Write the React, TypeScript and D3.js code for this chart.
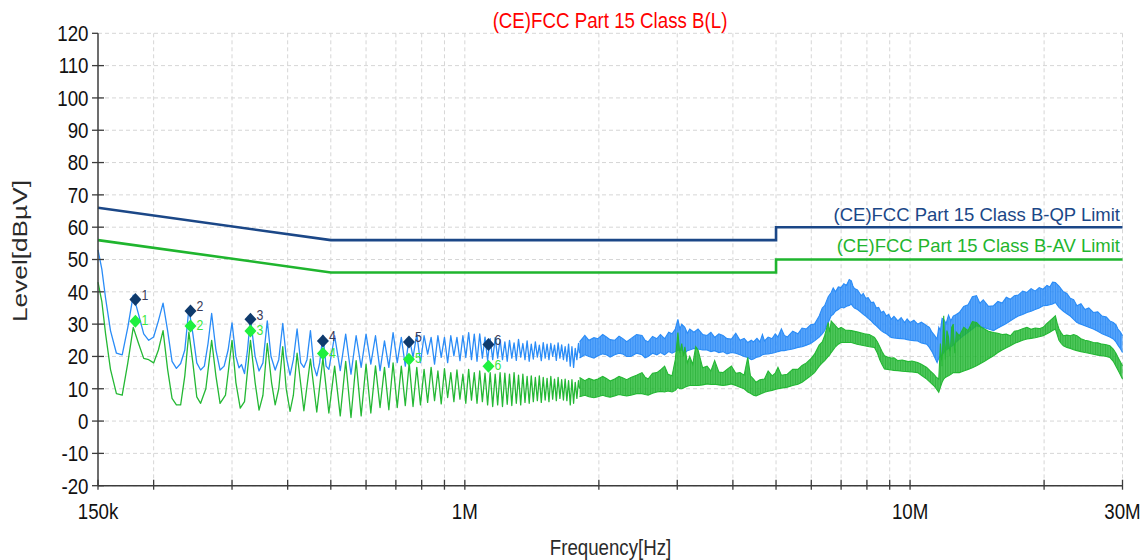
import React from "react";
import * as d3 from "d3";

// ---------- data ----------
const titleText = "(CE)FCC Part 15 Class B(L)";
const xAxisTitle = "Frequency[Hz]";
const yAxisTitle = "Level[dBµV]";

const yTickValues = [-20, -10, 0, 10, 20, 30, 40, 50, 60, 70, 80, 90, 100, 110, 120];
const xGridFreqs = [
  200e3, 300e3, 400e3, 500e3, 600e3, 700e3, 800e3, 900e3,
  1e6, 2e6, 3e6, 4e6, 5e6, 6e6, 7e6, 8e6, 9e6, 10e6, 20e6, 30e6,
];
const xLabelFreqs = [150e3, 1e6, 10e6, 30e6];
const xLabelTexts = ["150k", "1M", "10M", "30M"];

// limit lines [Hz, dBµV]
const qpLimit: [number, number][] = [[150e3, 66], [500e3, 56], [5e6, 56], [5e6, 60], [30e6, 60]];
const avLimit: [number, number][] = [[150e3, 56], [500e3, 46], [5e6, 46], [5e6, 50], [30e6, 50]];
const qpLimitName = "(CE)FCC Part 15 Class B-QP Limit";
const avLimitName = "(CE)FCC Part 15 Class B-AV Limit";

// QP scan, discrete harmonic region [kHz, dBµV]
const qpScan: [number, number][] = [
  [150, 53], [153, 47], [156, 38], [160, 28], [165, 21], [170, 20.5], [175, 29], [180, 39], [185, 33],
  [190, 27], [195, 25], [200, 26], [205, 31], [210, 36.5], [215, 28], [220, 18.5], [225, 16.3], [230, 17.8],
  [235, 22], [240, 34.8], [245, 27], [250, 18], [255, 15.8], [260, 17], [265, 24], [270, 33.3], [276, 22],
  [282, 15.8], [288, 17], [294, 22], [300, 30.4], [306, 20], [311, 16.5], [315, 17.5], [320, 14.7],
  [325, 22], [330, 31.8], [338, 20], [345, 15.5], [352, 18], [360, 31], [367, 20], [375, 15.8], [382, 19],
  [390, 30.2], [397, 20], [405, 14.2], [412, 19], [420, 28.5], [428, 18], [435, 16.6], [442, 19], [450, 28],
  [458, 17], [465, 14], [472, 18], [480, 26.5], [488, 17], [495, 16], [510, 26.4], [525, 15.6], [540, 26.9],
  [555, 14.5], [570, 26.4], [585, 16.6], [600, 26.9], [615, 17.6], [630, 26.4], [645, 15.6], [660, 24.8],
  [675, 16.6], [690, 27.4], [705, 18.1], [720, 25.9], [735, 17], [750, 26], [765, 19.7], [780, 26.9],
  [795, 18.1], [810, 26.4], [825, 20.7], [840, 25.9], [855, 17.6], [870, 26.4], [885, 19.7], [900, 25.9],
  [915, 18.1], [930, 26.4], [945, 20.2], [960, 25.9], [975, 18.7], [990, 26.4], [1005, 19.7], [1020, 27.4],
  [1035, 19], [1050, 26.9], [1065, 18.5], [1080, 27], [1095, 19.5], [1110, 26], [1125, 18.8], [1140, 25.5],
  [1155, 19], [1170, 25.8], [1185, 19.5], [1200, 25.2], [1215, 19], [1230, 24.5], [1245, 18.5], [1260, 25],
  [1275, 19.5], [1290, 24.2], [1305, 18.8], [1320, 25.3], [1335, 19.8], [1350, 24], [1365, 19], [1380, 24.8],
  [1395, 18.5], [1410, 23.8], [1425, 19.2], [1440, 24.5], [1455, 19.8], [1470, 23.5], [1485, 18.7],
  [1500, 24.3], [1515, 19.5], [1530, 23.8], [1545, 19], [1560, 24], [1575, 20], [1590, 23.5], [1605, 18.8],
  [1620, 24.2], [1635, 19.5], [1650, 23.6], [1665, 19], [1680, 23], [1695, 18.5], [1710, 23.8], [1725, 17],
  [1740, 23], [1755, 16.6], [1770, 22.5], [1785, 19], [1800, 24], [1810, 21],
];

// AV scan, discrete harmonic region [kHz, dBµV]
const avScan: [number, number][] = [
  [150, 43], [153, 37], [156, 27], [160, 16], [165, 8.5], [170, 8], [175, 18], [180, 29], [185, 24],
  [190, 19.4], [195, 19], [200, 18], [205, 22], [210, 28], [215, 16], [220, 7], [225, 5], [230, 5], [235, 14],
  [240, 27.5], [245, 18], [250, 7.5], [255, 5.5], [262, 10], [270, 25], [276, 14], [282, 5.5], [290, 8],
  [300, 25], [306, 12], [313, 4], [320, 6], [330, 25], [338, 12], [345, 3.4], [352, 8], [360, 24], [368, 12],
  [375, 5], [382, 10], [390, 23], [397, 10], [405, 3], [412, 8], [420, 21], [435, 3.2], [450, 19.2],
  [465, 2.8], [480, 19.5], [495, 2.5], [510, 17], [525, 1.6], [540, 18.5], [555, 1.1], [570, 18.7],
  [585, 1.6], [600, 17.6], [615, 2.5], [630, 17.1], [645, 4.2], [660, 16.6], [675, 3.5], [690, 18],
  [705, 4.2], [720, 17], [735, 4.8], [750, 18], [765, 4.5], [780, 16.6], [795, 5], [810, 16], [825, 5.8],
  [840, 16.6], [855, 6.3], [870, 15.5], [885, 5.3], [900, 16.2], [915, 7.3], [930, 15], [945, 6], [960, 15.8],
  [975, 6.8], [990, 14.5], [1005, 5.5], [1020, 16], [1035, 6.5], [1050, 15], [1065, 5.5], [1080, 15.5],
  [1095, 6], [1110, 14.8], [1125, 5], [1140, 15], [1155, 4.5], [1170, 14.5], [1185, 5], [1200, 15],
  [1215, 4.5], [1230, 14.8], [1245, 5.2], [1260, 14.5], [1275, 4.8], [1290, 15], [1305, 5.5], [1320, 14.2],
  [1335, 5], [1350, 14.5], [1365, 5.8], [1380, 13.8], [1395, 5.5], [1410, 14], [1425, 6], [1440, 13.5],
  [1455, 6.3], [1470, 14], [1485, 5.8], [1500, 13.5], [1515, 6.5], [1530, 13.2], [1545, 6], [1560, 13.8],
  [1575, 6.8], [1590, 13], [1605, 6.3], [1620, 13.5], [1635, 7], [1650, 12.8], [1665, 6.5], [1680, 13],
  [1695, 6.3], [1710, 12.5], [1725, 5], [1740, 12.8], [1755, 5.5], [1770, 12], [1785, 7], [1800, 12.5],
  [1810, 10],
];

// QP scan, dense region envelope [MHz, low, high]
const qpBand: [number, number, number][] = [
  [1.81, 19.5, 24.5], [1.86, 20.5, 26.5], [1.9, 20, 25], [1.95, 19.5, 25.8], [1.99, 20.2, 25.5],
  [2.04, 20.8, 26.8], [2.08, 20.5, 26], [2.12, 19.8, 25.2], [2.17, 20.5, 25], [2.22, 21, 26.3],
  [2.26, 20.8, 25.6], [2.31, 20, 24.6], [2.36, 20, 25.5], [2.43, 21, 26.8], [2.5, 20.5, 26.5],
  [2.54, 19.6, 25], [2.58, 20, 24.5], [2.64, 21, 26.2], [2.7, 20.5, 25.5], [2.75, 21.2, 26.8],
  [2.81, 20.5, 25.5], [2.87, 21.5, 27.5], [2.92, 21, 27], [2.97, 21.5, 28.5], [3.01, 22, 31.5],
  [3.04, 21.8, 28.5], [3.07, 22, 30], [3.12, 21, 29], [3.16, 21.8, 27.2], [3.2, 22, 28.5], [3.27, 22.5, 27.5],
  [3.34, 22.3, 28.5], [3.42, 22, 26.8], [3.5, 22, 26.5], [3.57, 21.5, 27.5], [3.64, 21.8, 25.9],
  [3.72, 21.2, 27], [3.8, 21.5, 26.5], [3.88, 20.8, 25.5], [3.97, 21.2, 25.4], [4.06, 21, 27.2],
  [4.15, 20.5, 25], [4.24, 20, 25.6], [4.32, 19.7, 24.3], [4.4, 19, 25], [4.45, 19.2, 24.5], [4.53, 19.8, 25.6],
  [4.6, 20, 24.5], [4.66, 20.5, 26.8], [4.71, 20.7, 24.8], [4.8, 20.8, 26], [4.9, 21, 25.5], [4.98, 21.2, 27],
  [5.05, 21.5, 26], [5.14, 21.8, 28.5], [5.22, 21.8, 26.5], [5.3, 22, 26], [5.45, 22.3, 27.8], [5.6, 22.8, 27],
  [5.72, 23, 28.8], [5.85, 23.5, 28.5], [5.98, 24, 29.8], [6.1, 24.8, 30], [6.25, 26, 32.5], [6.35, 27, 35],
  [6.43, 28, 35.7], [6.55, 30.5, 38.5], [6.65, 32.6, 39.8], [6.72, 33, 41.2], [6.8, 34, 40], [6.9, 34.5, 41.5],
  [7.0, 35.2, 41.3], [7.1, 35, 42.5], [7.2, 35.5, 42], [7.3, 35.8, 43.8], [7.38, 36.2, 43.4], [7.44, 35.5, 41.8],
  [7.5, 35, 41], [7.62, 34.5, 40.6], [7.77, 33.6, 38.8], [7.85, 33, 39.5], [7.95, 32.5, 38], [8.05, 31.8, 38.2],
  [8.18, 31, 36.7], [8.28, 30.2, 36.8], [8.4, 29.5, 35], [8.5, 28.8, 35.2], [8.61, 28, 33.6], [8.72, 27.5, 34],
  [8.85, 27, 32.5], [8.95, 26.5, 33], [9.07, 25.9, 31.5], [9.2, 25.7, 32.4], [9.39, 25.6, 31], [9.55, 25.5, 32],
  [9.72, 25.4, 30.5], [9.85, 25.2, 31.6], [10.0, 25, 30.5], [10.2, 24.9, 31.2], [10.4, 24.8, 30],
  [10.6, 24.2, 30.6], [10.9, 23.8, 29.5], [11.05, 22.8, 29], [11.2, 21.5, 27.5], [11.35, 19.8, 26.5],
  [11.5, 18.1, 25.4], [11.6, 19.5, 29], [11.7, 20, 28], [11.8, 20.5, 31.8], [11.9, 21.2, 31.5],
  [12.05, 22, 30.2], [12.2, 22.5, 32.8], [12.35, 23, 31], [12.5, 23.5, 32.5], [12.7, 24.5, 33],
  [12.9, 25.4, 33.6], [13.2, 26.5, 35.5], [13.5, 27.5, 36], [13.8, 28.5, 38.5], [14.1, 29.5, 38.8],
  [14.35, 29.2, 36.5], [14.6, 29, 37.5], [15.0, 28.5, 35.5], [15.4, 28, 35.7], [15.75, 28.8, 37],
  [16.1, 29.5, 36.5], [16.45, 30.2, 38.3], [16.8, 31, 37.7], [17.15, 31.8, 38.8], [17.5, 32.5, 39],
  [17.9, 33, 40.2], [18.3, 33.6, 39.8], [18.7, 34, 41], [19.1, 34.5, 40.2], [19.5, 35, 41.3], [19.9, 35.7, 40.8],
  [20.3, 35.8, 42], [20.6, 36, 41.5], [20.9, 36.2, 43], [21.2, 36.7, 42.9], [21.6, 35.2, 41.8], [22.1, 34, 40],
  [22.5, 33.2, 39.5], [22.9, 32.5, 38], [23.3, 31.5, 37.6], [23.7, 30.5, 35.7], [24.2, 30, 36.3],
  [24.7, 29.5, 34.5], [25.2, 29, 35], [25.8, 28.5, 33.6], [26.4, 27.8, 33.8], [27.0, 27, 32.5],
  [27.6, 26.5, 32.2], [28.1, 26, 31], [28.6, 25.4, 30.5], [29.0, 24.5, 29.8], [29.3, 23.5, 28.5],
  [29.7, 22.3, 27.5], [30.0, 21.2, 26.4],
];

// AV scan, dense region envelope [MHz, low, high]
const avBand: [number, number, number][] = [
  [1.81, 7.5, 13.5], [1.86, 8, 12.5], [1.9, 7.5, 13.2], [1.95, 7.2, 12.6], [1.99, 7.5, 13],
  [2.04, 8, 13.8], [2.08, 7.6, 13.2], [2.12, 7.4, 12.4], [2.17, 7.8, 13], [2.22, 8.2, 13.8],
  [2.26, 8, 13.4], [2.31, 7.8, 12.8], [2.36, 8, 13.5], [2.43, 8.5, 14.2], [2.5, 8.5, 15], [2.54, 8.2, 13.6],
  [2.58, 8, 13], [2.64, 8.6, 14.8], [2.7, 9, 15], [2.76, 9.2, 16], [2.81, 9, 17], [2.86, 9.3, 14.5],
  [2.92, 9, 14], [2.97, 9.5, 19], [3.01, 10.4, 27.4], [3.04, 10, 21], [3.07, 10, 24], [3.1, 10.2, 20],
  [3.12, 10.5, 23], [3.16, 10.8, 18], [3.2, 11, 20], [3.25, 11, 17.5], [3.3, 11, 23], [3.34, 11, 22],
  [3.42, 11.2, 16.5], [3.5, 11.5, 17], [3.57, 11.3, 15.5], [3.64, 11.4, 18.7], [3.72, 11.2, 15.2],
  [3.8, 11, 15], [3.88, 11.2, 16], [3.97, 11.5, 17], [4.06, 11, 14.8], [4.15, 10.5, 15], [4.24, 10, 14.2],
  [4.32, 9, 19.7], [4.38, 8.6, 14], [4.45, 8, 13], [4.51, 7.8, 12], [4.6, 8.3, 12.8], [4.71, 8.9, 13],
  [4.8, 9.2, 15.5], [4.9, 9.5, 14], [4.98, 9.8, 14.8], [5.05, 10, 16.6], [5.14, 10.2, 14.2],
  [5.3, 10.5, 14.5], [5.45, 11, 16], [5.6, 11.4, 16], [5.72, 12, 17.2], [5.85, 13, 18], [5.98, 14, 19.2],
  [6.1, 15, 20.7], [6.25, 17, 23.5], [6.35, 18, 24.5], [6.43, 18.7, 26.4], [6.55, 20, 30.5], [6.6, 20.5, 27.5],
  [6.65, 21.2, 31], [6.8, 23, 29.5], [6.9, 23.8, 28.5], [7.0, 24.3, 29], [7.15, 24.3, 28.2], [7.38, 24.3, 28],
  [7.6, 23.8, 27.6], [7.9, 23.3, 27], [8.1, 23, 26.8], [8.32, 22.8, 25.9], [8.45, 21, 24.5], [8.55, 19, 23],
  [8.65, 17.5, 21.5], [8.76, 16.1, 20.2], [8.9, 16, 19.8], [9.07, 15.8, 19.5], [9.2, 15.7, 19.6],
  [9.39, 15.6, 18.7], [9.6, 15.4, 18.9], [9.9, 15.3, 18.4], [10.1, 15.2, 18.6], [10.4, 15, 18.1],
  [10.6, 14.2, 17.6], [10.9, 13, 16.6], [11.1, 12, 15.5], [11.3, 11, 14.5], [11.45, 10, 13.6], [11.6, 8.9, 13],
  [11.7, 10.5, 24], [11.8, 12, 17], [11.9, 13, 32.6], [12.0, 13.5, 19], [12.1, 13.8, 28], [12.2, 14, 26],
  [12.3, 14.3, 20], [12.4, 14.6, 29], [12.5, 15, 30], [12.6, 15, 21], [12.7, 15, 27.5], [12.9, 15, 26.4],
  [13.2, 15.5, 29], [13.5, 16, 28], [13.8, 16.5, 30.8], [14.1, 17.1, 30.5], [14.4, 17.8, 29.2],
  [14.7, 18.5, 28.5], [15.0, 19.3, 27.8], [15.4, 20.2, 27.4], [15.75, 21.2, 27.2], [16.1, 22, 26.8],
  [16.45, 22.7, 26.9], [16.8, 23.3, 26.4], [17.15, 24, 27.8], [17.5, 24.5, 28], [17.9, 25, 28.6],
  [18.3, 25.4, 29], [18.7, 25.6, 28.4], [19.1, 25.8, 28.8], [19.5, 26.1, 28.6], [19.9, 26.4, 29],
  [20.3, 27, 30.2], [20.6, 27.5, 31], [20.9, 28, 31.8], [21.2, 28.5, 32.6], [21.4, 26.8, 30.2], [21.6, 25, 28.5],
  [21.85, 24, 27.3], [22.1, 23.3, 26.4], [22.5, 22.8, 26.6], [22.9, 22.5, 26.4], [23.3, 22.1, 26.8],
  [23.7, 21.8, 26.4], [24.2, 21.5, 25.5], [24.7, 21.2, 25], [25.2, 21, 24.8], [25.8, 20.7, 24.3],
  [26.4, 20.4, 24.2], [27.0, 20.2, 23.8], [27.6, 20, 23.6], [28.1, 19.7, 23.3], [28.6, 18.5, 22.3],
  [29.0, 17, 21], [29.5, 15, 19], [30.0, 13, 17.1],
];

// final measurement markers
const markerFreqKHz = [182, 242, 330, 480, 749, 1130];
const markerQP = [37.6, 34.1, 31.5, 24.8, 24.5, 23.7];
const markerAV = [30.9, 29.4, 27.9, 20.9, 19.1, 17.0];
const markerLabels = ["1", "2", "3", "4", "5", "6"];

// ---------- drawing ----------
const FONT = "'Liberation Sans', Arial, Helvetica, sans-serif";

function T(props: {
  x: number; y: number; size?: number; sx?: number; rot?: number;
  anchor?: string; fill?: string; children: React.ReactNode; textLength?: number;
}) {
  const { x, y, size = 22, sx = 0.85, rot = 0, anchor = "start", fill = "#000", children, textLength } = props;
  return (
    <text
      transform={`translate(${x},${y}) rotate(${rot}) scale(${sx},1)`}
      fontSize={size}
      fontFamily={FONT}
      textAnchor={anchor as any}
      fill={fill}
      textLength={textLength}
      lengthAdjust={textLength ? "spacingAndGlyphs" : undefined}
    >
      {children}
    </text>
  );
}

export default function App() {
  const W = 1148;
  const H = 560;
  const x = d3.scaleLog().domain([150e3, 30e6]).range([98, 1122.5]);
  const y = d3.scaleLinear().domain([-20, 120]).range([485.7, 33.3]);
  const left = x.range()[0];
  const right = x.range()[1];
  const bottom = y.range()[0];
  const top = y.range()[1];

  const hzLine = d3.line<[number, number]>().x((d) => x(d[0])).y((d) => y(d[1]));
  const khzLine = d3.line<[number, number]>().x((d) => x(d[0] * 1e3)).y((d) => y(d[1]));
  const bandArea = d3
    .area<[number, number, number]>()
    .x((d) => x(d[0] * 1e6))
    .y0((d) => y(d[1]))
    .y1((d) => y(d[2]));
  const bandLo = d3.line<[number, number, number]>().x((d) => x(d[0] * 1e6)).y((d) => y(d[1]));
  const bandHi = d3.line<[number, number, number]>().x((d) => x(d[0] * 1e6)).y((d) => y(d[2]));

  const gridColor = "#d6d6d6";
  const axisColor = "#3c3c3c";
  const qpLimitColor = "#1b4787";
  const avLimitColor = "#1fb52e";
  const qpTrace = "#2a8cf7";
  const avTrace = "#24b834";
  const qpMarker = "#0f3a6c";
  const avMarker = "#1ff03e";

  const diamond = "M0,-6.5L6,0L0,6.5L-6,0Z";

  return (
    <svg
      width={W}
      height={H}
      style={{ position: "absolute", left: 0, top: 0, background: "#fff", display: "block" }}
    >
      <defs>
        <pattern id="qpHatch" width={2.5} height={6} patternUnits="userSpaceOnUse">
          <rect x={0} y={0} width={0.9} height={6} fill="#1677ee" fillOpacity={0.45} />
        </pattern>
        <pattern id="avHatch" width={2.5} height={6} patternUnits="userSpaceOnUse">
          <rect x={0} y={0} width={0.9} height={6} fill="#0f9e20" fillOpacity={0.45} />
        </pattern>
      </defs>
      <rect x={0} y={0} width={W} height={H} fill="#fff" />
      {/* grid */}
      <g stroke={gridColor} strokeWidth={1} strokeDasharray="4,3">
        {yTickValues.map((v) => (
          <line key={"gy" + v} x1={left} x2={right} y1={y(v)} y2={y(v)} />
        ))}
        {xGridFreqs.map((f) => (
          <line key={"gx" + f} x1={x(f)} x2={x(f)} y1={top} y2={bottom} />
        ))}
      </g>

      {/* limit lines */}
      <path d={hzLine(qpLimit) || ""} fill="none" stroke={qpLimitColor} strokeWidth={2.6} />
      <path d={hzLine(avLimit) || ""} fill="none" stroke={avLimitColor} strokeWidth={2.6} />

      {/* QP trace */}
      <path d={khzLine(qpScan) || ""} fill="none" stroke={qpTrace} strokeWidth={1.3} strokeLinejoin="round" />
      <path d={bandArea(qpBand) || ""} fill="#2f90fa" fillOpacity={0.82} stroke="none" />
      <path d={bandArea(qpBand) || ""} fill="url(#qpHatch)" stroke="none" />
      <path d={bandLo(qpBand) || ""} fill="none" stroke={qpTrace} strokeWidth={1.1} />
      <path d={bandHi(qpBand) || ""} fill="none" stroke={qpTrace} strokeWidth={1.1} />

      {/* AV trace */}
      <path d={khzLine(avScan) || ""} fill="none" stroke={avTrace} strokeWidth={1.3} strokeLinejoin="round" />
      <path d={bandArea(avBand) || ""} fill="#26bb36" fillOpacity={0.82} stroke="none" />
      <path d={bandArea(avBand) || ""} fill="url(#avHatch)" stroke="none" />
      <path d={bandLo(avBand) || ""} fill="none" stroke={avTrace} strokeWidth={1.1} />
      <path d={bandHi(avBand) || ""} fill="none" stroke={avTrace} strokeWidth={1.1} />

      {/* markers */}
      {markerFreqKHz.map((f, i) => (
        <g key={"m" + i}>
          <path d={diamond} transform={`translate(${x(f * 1e3)},${y(markerQP[i])})`} fill={qpMarker} />
          <T x={x(f * 1e3) + 6} y={y(markerQP[i]) + 0.5} size={14.5} sx={0.85} fill="#3a3a58">
            {markerLabels[i]}
          </T>
          <path d={diamond} transform={`translate(${x(f * 1e3)},${y(markerAV[i])})`} fill={avMarker} />
          <T x={x(f * 1e3) + 6} y={y(markerAV[i]) + 4} size={14.5} sx={0.85} fill="#3ee83e">
            {markerLabels[i]}
          </T>
        </g>
      ))}

      {/* axes */}
      <line x1={left} x2={left} y1={top} y2={bottom} stroke={axisColor} strokeWidth={1.5} />
      <line x1={left} x2={right} y1={bottom} y2={bottom} stroke={axisColor} strokeWidth={1.5} />
      <g stroke={axisColor} strokeWidth={1.3}>
        {yTickValues.map((v) => (
          <line key={"ty" + v} x1={left - 6} x2={v === 120 ? left : left + 6} y1={y(v)} y2={y(v)} />
        ))}
        {[150e3, ...xGridFreqs].map((f) => (
          <line key={"tx" + f} x1={x(f)} x2={x(f)} y1={bottom - 6} y2={bottom + 4} />
        ))}
      </g>

      {/* tick labels */}
      {yTickValues.map((v) => (
        <T key={"ly" + v} x={88.5} y={y(v) + 7.8} anchor="end" fill="#111">
          {String(v)}
        </T>
      ))}
      {xLabelFreqs.map((f, i) => (
        <T key={"lx" + f} x={x(f)} y={518.5} anchor="middle" fill="#111">
          {xLabelTexts[i]}
        </T>
      ))}

      {/* titles */}
      <T x={610} y={28} anchor="middle" fill="#ff0000">
        {titleText}
      </T>
      <T x={610.5} y={555} anchor="middle" fill="#2a2a2a">
        {xAxisTitle}
      </T>
      <T x={27} y={251} rot={-90} sx={1} anchor="middle" fill="#2a2a2a" size={21} textLength={142}>
        {yAxisTitle}
      </T>

      {/* limit legends */}
      <T x={1120} y={220.7} size={18.5} sx={1} anchor="end" fill={qpLimitColor}>
        {qpLimitName}
      </T>
      <T x={1120} y={251.7} size={18.5} sx={1} anchor="end" fill={avLimitColor}>
        {avLimitName}
      </T>
    </svg>
  );
}
